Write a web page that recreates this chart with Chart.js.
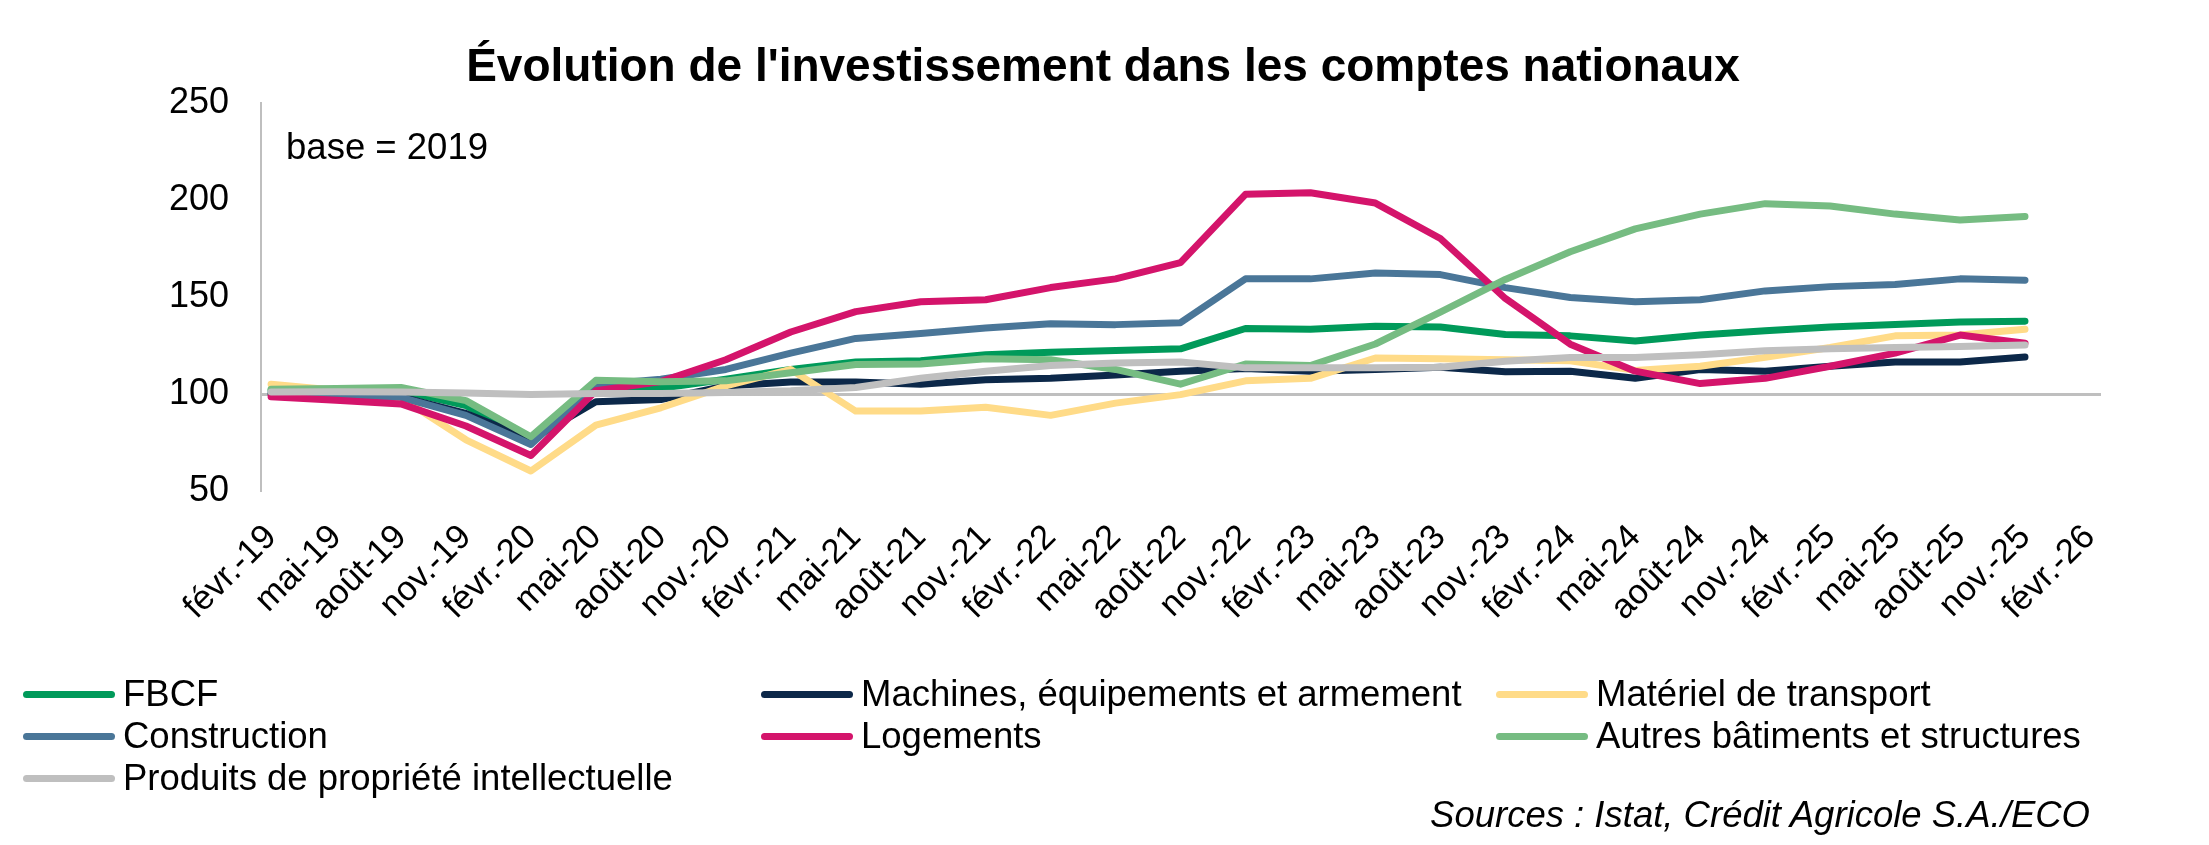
<!DOCTYPE html>
<html lang="fr">
<head>
<meta charset="utf-8">
<title>Évolution de l'investissement dans les comptes nationaux</title>
<script src="https://cdn.jsdelivr.net/npm/chart.js@4.4.1/dist/chart.umd.min.js"></script>
<style>
  html, body { margin: 0; padding: 0; background: #ffffff; }
  #wrap { position: relative; width: 2209px; height: 845px; overflow: hidden; font-family: "Liberation Sans", Arial, sans-serif; }
  #chart { position: absolute; left: 0; top: 0; }
  .lg { position: absolute; height: 42px; display: flex; align-items: center; font-size: 36.5px; color: #000; white-space: nowrap; }
  .lg i { display: inline-block; width: 92px; height: 7px; border-radius: 4px; margin-right: 8px; }
  #src { position: absolute; right: 119px; top: 794px; font-size: 36.5px; font-style: italic; color: #000; white-space: nowrap; }
</style>
</head>
<body>
<div id="wrap">
  <canvas id="chart" width="2209" height="845"></canvas>
  <div id="legend"></div>
  <div id="src">Sources : Istat, Crédit Agricole S.A./ECO</div>
</div>
<script>
// ---- Data (quarterly, index base 2019 = 100) ----
const tickLabels = ["févr.-19","mai-19","août-19","nov.-19","févr.-20","mai-20","août-20","nov.-20",
  "févr.-21","mai-21","août-21","nov.-21","févr.-22","mai-22","août-22","nov.-22",
  "févr.-23","mai-23","août-23","nov.-23","févr.-24","mai-24","août-24","nov.-24",
  "févr.-25","mai-25","août-25","nov.-25","févr.-26"];

const fbcf         = [102.0,102.0,101.8,94.0,76.5,102.0,103.0,107.6,112.7,116.5,117.2,120.3,121.6,122.4,123.3,133.8,133.4,134.9,134.6,130.7,130.0,127.3,130.4,132.6,134.6,135.9,137.1,137.6];
const machines     = [100.0,99.5,98.5,90.0,76.5,96.0,97.2,104.2,106.2,106.2,105.1,107.4,108.1,109.8,111.8,113.2,111.8,112.7,113.8,111.5,111.8,108.1,112.7,111.8,114.3,116.5,116.5,119.1];
const materiel     = [105.1,102.0,98.0,76.4,60.3,84.0,92.9,104.2,112.7,91.2,91.2,93.2,89.0,95.3,99.7,106.8,108.1,118.6,118.2,117.7,117.2,112.2,114.3,118.9,124.0,130.0,130.4,133.4];
const construction = [100.8,99.5,98.3,89.0,74.0,104.8,107.6,112.7,121.1,128.7,131.2,134.1,136.3,135.8,136.8,159.4,159.4,162.4,161.6,154.9,149.8,147.6,148.6,153.2,155.4,156.5,159.4,158.7];
const logements    = [98.6,96.8,94.9,83.5,68.3,101.7,106.4,117.7,132.0,142.5,147.6,148.6,154.9,159.4,167.8,203.0,203.8,198.5,180.2,149.3,125.7,111.8,105.4,108.1,114.3,121.1,130.4,126.2];
const autres       = [102.5,102.9,103.4,96.6,78.0,107.1,106.4,106.8,111.0,115.2,115.5,118.2,117.7,112.7,105.1,115.5,114.7,125.8,142.2,159.1,173.4,185.2,192.8,198.2,197.0,192.8,189.8,191.6];
const produits     = [101.0,101.2,101.0,100.5,99.7,100.3,100.3,100.8,101.7,103.4,108.1,111.8,114.7,116.0,116.5,113.5,113.5,113.5,113.8,116.9,118.9,118.9,120.3,122.3,123.3,124.0,124.5,125.3];

const seriesNames  = ["FBCF","Machines, équipements et armement","Matériel de transport","Construction","Logements","Autres bâtiments et structures","Produits de propriété intellectuelle"];
const seriesValues = [fbcf, machines, materiel, construction, logements, autres, produits];
const seriesColors = ["#009A5A","#0C2849","#FFDB88","#4A7698","#D4146B","#76BC82","#BFBFBF"];

const yTicks = [50, 100, 150, 200, 250];

// ---- Chart ----
const datasets = seriesValues.map((vals, s) => ({
  label: seriesNames[s],
  data: vals.map((v, i) => ({ x: i, y: v })),
  borderColor: seriesColors[s],
  backgroundColor: seriesColors[s],
  borderWidth: 7,
  pointRadius: 0,
  pointHoverRadius: 0,
  tension: 0,
  borderCapStyle: 'round',
  borderJoinStyle: 'round',
  fill: false,
  order: seriesValues.length - s
}));

const textPlugin = {
  id: 'baseText',
  afterDraw(chart) {
    const ctx = chart.ctx;
    ctx.save();
    ctx.font = '36.5px "Liberation Sans", Arial, sans-serif';
    ctx.fillStyle = '#000';
    ctx.textAlign = 'left';
    ctx.textBaseline = 'alphabetic';
    ctx.fillText('base = 2019', chart.chartArea.left + 25, 159);
    ctx.restore();
  }
};

new Chart(document.getElementById('chart'), {
  type: 'line',
  data: { datasets },
  plugins: [textPlugin],
  options: {
    responsive: false,
    animation: false,
    devicePixelRatio: 1,
    layout: { padding: { left: 105, right: 108, top: 0, bottom: 190 } },
    plugins: {
      legend: { display: false },
      tooltip: { enabled: false },
      title: {
        display: true,
        text: "Évolution de l'investissement dans les comptes nationaux",
        color: '#000',
        font: { family: '"Liberation Sans", Arial, sans-serif', size: 46, weight: 'bold' },
        padding: { top: 41, bottom: 7 }
      }
    },
    scales: {
      x: {
        type: 'linear',
        min: -0.154,
        max: 28.17,
        grid: { display: false, drawTicks: false },
        border: { display: false },
        ticks: {
          stepSize: 1,
          autoSkip: false,
          includeBounds: false,
          maxRotation: 45,
          minRotation: 45,
          padding: 26,
          color: '#000',
          font: { family: '"Liberation Sans", Arial, sans-serif', size: 34.5 },
          callback: (v) => (Number.isInteger(v) && tickLabels[v] !== undefined) ? tickLabels[v] : ''
        }
      },
      y: {
        min: 50,
        max: 250,
        afterBuildTicks: (scale) => { scale.ticks = yTicks.map(v => ({ value: v })); },
        afterFit: (scale) => { scale.width += 32; },
        grid: {
          drawTicks: false,
          lineWidth: 3,
          color: (c) => (c.tick && c.tick.value === 100) ? '#BFBFBF' : 'rgba(0,0,0,0)'
        },
        border: { display: true, color: '#BFBFBF', width: 2 },
        ticks: {
          padding: 32,
          color: '#000',
          font: { family: '"Liberation Sans", Arial, sans-serif', size: 36 }
        }
      }
    }
  }
});

// ---- HTML legend (3 columns) ----
const legendPos = [
  [23, 673], [761, 673], [1496, 673],
  [23, 715], [761, 715], [1496, 715],
  [23, 757]
];
const lg = document.getElementById('legend');
seriesNames.forEach((name, s) => {
  const d = document.createElement('div');
  d.className = 'lg';
  d.style.left = legendPos[s][0] + 'px';
  d.style.top = legendPos[s][1] + 'px';
  const sw = document.createElement('i');
  sw.style.background = seriesColors[s];
  d.appendChild(sw);
  d.appendChild(document.createTextNode(name));
  lg.appendChild(d);
});
</script>
</body>
</html>
